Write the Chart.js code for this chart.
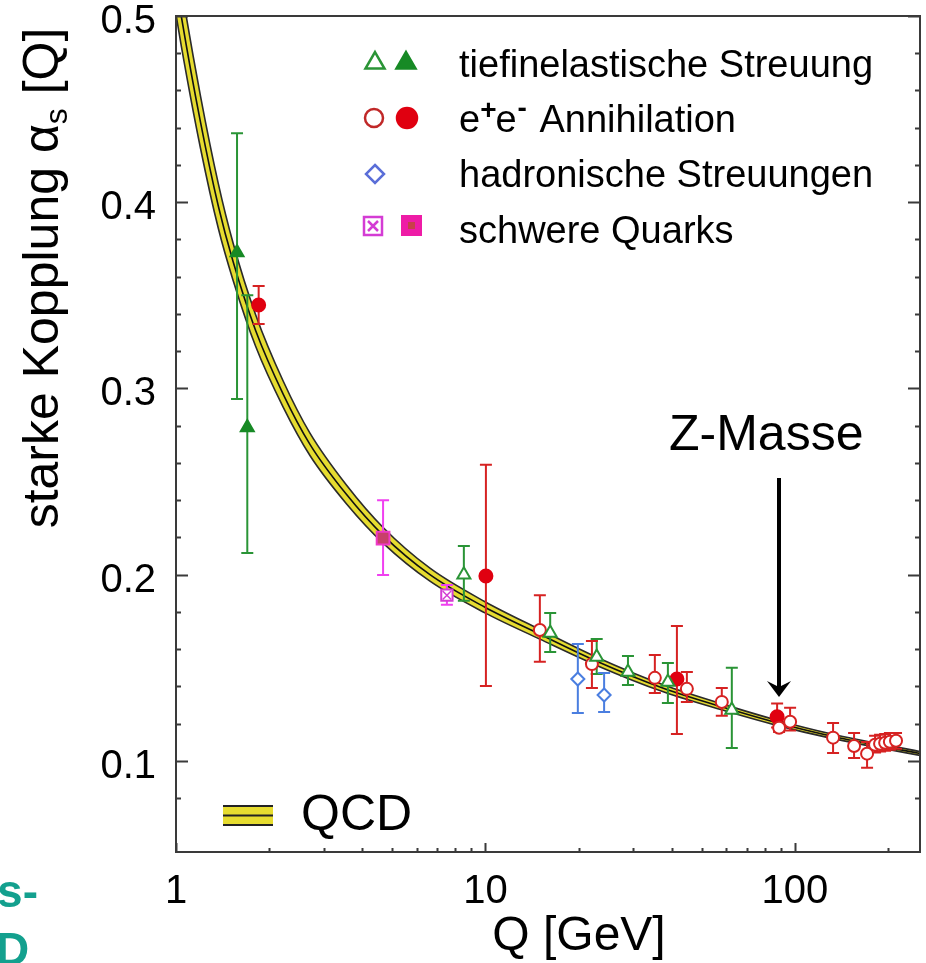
<!DOCTYPE html>
<html><head><meta charset="utf-8">
<script src="https://cdn.jsdelivr.net/npm/chart.js@4.4.0/dist/chart.umd.min.js"></script>
<style>html,body{margin:0;padding:0;background:#fff;}canvas{display:block;}</style>
</head><body>
<canvas id="c" width="926" height="963"></canvas>
<script>
const FONT = '"Liberation Sans", Arial, Helvetica, sans-serif';

// ---- QCD band ----
const qcdQ   = [1.0, 1.04, 1.2, 1.37, 1.53, 1.81, 2.22, 2.71, 3.56, 4.68, 6.62, 9.97, 15.0, 22.9, 37.6, 61.8, 87.5, 131.7, 254];
const qcdMid = [0.518, 0.500, 0.443, 0.398, 0.368, 0.331, 0.297, 0.270, 0.243, 0.221, 0.200, 0.1825, 0.168, 0.1535, 0.139, 0.1277, 0.1205, 0.1133, 0.1040];
const qcdUp  = [0.535, 0.516, 0.457, 0.410, 0.378, 0.3395, 0.304, 0.276, 0.248, 0.2252, 0.2035, 0.1855, 0.1706, 0.1557, 0.1409, 0.1293, 0.1219, 0.1145, 0.1050];
const qcdLow = [0.501, 0.484, 0.429, 0.386, 0.358, 0.3225, 0.290, 0.264, 0.238, 0.2168, 0.1965, 0.1795, 0.1654, 0.1513, 0.1371, 0.1261, 0.1191, 0.1121, 0.1030];

// ---- tiefinelastische Streuung ----
const disOpenQ  = [8.52, 16.2, 22.9, 28.9, 38.9, 62.6];
const disOpenA  = [0.200, 0.1687, 0.1558, 0.1478, 0.1424, 0.1274];
const disOpenLo = [0.186, 0.1585, 0.1467, 0.1408, 0.1311, 0.107];
const disOpenHi = [0.2154, 0.1795, 0.1655, 0.1564, 0.1526, 0.150];
const disFillQ  = [1.575, 1.70];
const disFillA  = [0.373, 0.279];
const disFillLo = [0.2944, 0.2117];
const disFillHi = [0.437, 0.350];

// ---- e+e- Annihilation ----
const eeOpenQ  = [15.0, 22.1, 35.3, 44.8, 58.1, 89.0, 96.6, 133, 155.5, 171.3, 181.8, 188.7, 196, 203, 212.5];
const eeOpenA  = [0.1703, 0.152, 0.1446, 0.1387, 0.1317, 0.1178, 0.121, 0.1125, 0.108, 0.1039, 0.1087, 0.1092, 0.1098, 0.1103, 0.1108];
const eeOpenLo = [0.1532, 0.1392, 0.1365, 0.1317, 0.1242, 0.1155, 0.1164, 0.1043, 0.1016, 0.0963, 0.1045, 0.105, 0.1055, 0.106, 0.1065];
const eeOpenHi = [0.189, 0.1644, 0.1569, 0.1478, 0.1392, 0.1200, 0.1286, 0.1204, 0.115, 0.1102, 0.1135, 0.114, 0.1145, 0.115, 0.115];
const eeFillQ  = [1.85, 10.04, 41.6, 87.7];
const eeFillA  = [0.3448, 0.1993, 0.144, 0.1237];
const eeFillLo = [0.3346, 0.1403, 0.1145, 0.118];
const eeFillHi = [0.355, 0.259, 0.1725, 0.1309];

// ---- hadronische Streuungen ----
const hadQ  = [19.9, 24.2];
const hadA  = [0.144, 0.1354];
const hadLo = [0.1258, 0.1263];
const hadHi = [0.1628, 0.1472];

// ---- schwere Quarks ----
const hqOpenQ  = [7.51];
const hqOpenA  = [0.189];
const hqOpenLo = [0.1838];
const hqOpenHi = [0.1945];
const hqFillQ  = [4.67];
const hqFillA  = [0.2197];
const hqFillLo = [0.1999];
const hqFillHi = [0.240];

const xTickLabels = [1, 10, 100];
const yTickLabels = [0.1, 0.2, 0.3, 0.4, 0.5];
const legendLabels = ['tiefinelastische Streuung', 'e+e- Annihilation', 'hadronische Streuungen', 'schwere Quarks'];
const xTitle = 'Q [GeV]';
const yTitleMain = 'starke Kopplung ';
const annotation = 'Z-Masse';
const bandLabel = 'QCD';

const GREEN = '#2a9436', GREEN_F = '#178a25', RED = '#d62222', RED_F = '#e00010',
      BLUE = '#4a7ee0', MAG = '#f040f0', MAG_D = '#d43cd4', YEL = '#e6dc30';

const pts = (q, a) => q.map((v, i) => ({x: v, y: a[i]}));

const errSeries = [
  {q: disFillQ, lo: disFillLo, hi: disFillHi, c: GREEN},
  {q: disOpenQ, lo: disOpenLo, hi: disOpenHi, c: GREEN},
  {q: eeFillQ, lo: eeFillLo, hi: eeFillHi, c: RED},
  {q: eeOpenQ, lo: eeOpenLo, hi: eeOpenHi, c: RED},
  {q: hadQ, lo: hadLo, hi: hadHi, c: BLUE},
  {q: hqOpenQ, lo: hqOpenLo, hi: hqOpenHi, c: MAG},
  {q: hqFillQ, lo: hqFillLo, hi: hqFillHi, c: MAG},
];

function drawErrorBars(chart) {
  const {ctx, chartArea: ca} = chart;
  const xs = chart.scales.x, ys = chart.scales.y;
  ctx.save();
  ctx.beginPath(); ctx.rect(ca.left, ca.top, ca.right - ca.left, ca.bottom - ca.top); ctx.clip();
  ctx.lineWidth = 2;
  errSeries.forEach(s => {
    ctx.strokeStyle = s.c;
    s.q.forEach((q, i) => {
      const px = xs.getPixelForValue(q);
      const y1 = ys.getPixelForValue(s.lo[i]), y2 = ys.getPixelForValue(s.hi[i]);
      const cw = 6;
      ctx.beginPath();
      ctx.moveTo(px, y1); ctx.lineTo(px, y2);
      ctx.moveTo(px - cw, y1); ctx.lineTo(px + cw, y1);
      ctx.moveTo(px - cw, y2); ctx.lineTo(px + cw, y2);
      ctx.stroke();
    });
  });
  ctx.restore();
}

function drawFrameTicks(chart) {
  const {ctx, chartArea: ca} = chart;
  const xs = chart.scales.x, ys = chart.scales.y;
  ctx.save();
  ctx.strokeStyle = '#3a3a3a';
  ctx.lineWidth = 2;
  ctx.beginPath();
  ys.ticks.forEach(t => {
    const v = t.value;
    const k = Math.round(v / 0.02);
    if (Math.abs(v - k * 0.02) > 1e-6) return;
    const major = Math.abs(v * 10 - Math.round(v * 10)) < 1e-6;
    const len = major ? 12 : 5;
    const py = Math.round(ys.getPixelForValue(v)) + 0.5;
    ctx.moveTo(ca.left, py); ctx.lineTo(ca.left + len, py);
    ctx.moveTo(ca.right, py); ctx.lineTo(ca.right - len, py);
  });
  xs.ticks.forEach(t => {
    const v = t.value;
    const e = Math.floor(Math.log10(v) + 1e-9);
    const m = v / Math.pow(10, e);
    if (Math.abs(m - Math.round(m)) > 1e-6) return;
    const major = Math.abs(m - 1) < 1e-6;
    const len = major ? 9 : 4;
    const px = Math.round(xs.getPixelForValue(v)) + 0.5;
    ctx.moveTo(px, ca.bottom); ctx.lineTo(px, ca.bottom - len);
  });
  ctx.stroke();
  ctx.strokeRect(ca.left, ca.top, ca.right - ca.left, ca.bottom - ca.top);
  ctx.restore();
}

// legend marker helpers
function triangle(ctx, x, y, r, fill, stroke) {
  ctx.beginPath();
  for (let i = 0; i < 3; i++) {
    const a = i * 2 * Math.PI / 3;
    const px = x + Math.sin(a) * r, py = y - Math.cos(a) * r;
    i ? ctx.lineTo(px, py) : ctx.moveTo(px, py);
  }
  ctx.closePath();
  ctx.fillStyle = fill; ctx.fill();
  ctx.lineWidth = 2.5; ctx.strokeStyle = stroke; ctx.stroke();
}
function circle(ctx, x, y, r, fill, stroke) {
  ctx.beginPath(); ctx.arc(x, y, r, 0, Math.PI * 2);
  ctx.fillStyle = fill; ctx.fill();
  ctx.lineWidth = 2.5; ctx.strokeStyle = stroke; ctx.stroke();
}

function drawTexts(chart) {
  const ctx = chart.ctx;
  ctx.save();
  ctx.fillStyle = '#000';
  ctx.textBaseline = 'alphabetic';

  // y title
  ctx.save();
  ctx.translate(58, 278);
  ctx.rotate(-Math.PI / 2);
  const fMain = `50px ${FONT}`, fSub = `32px ${FONT}`;
  ctx.font = fMain;
  const w1 = ctx.measureText(yTitleMain).width;
  const wA = ctx.measureText('α').width;
  const w3 = ctx.measureText(' [Q]').width;
  ctx.font = fSub;
  const wS = ctx.measureText('s').width;
  let x = -(w1 + wA + wS + w3) / 2;
  ctx.font = fMain;
  ctx.fillText(yTitleMain, x, 0); x += w1;
  ctx.fillText('α', x, 0); x += wA;
  ctx.font = fSub; ctx.fillText('s', x, 9); x += wS;
  ctx.font = fMain; ctx.fillText(' [Q]', x, 0);
  ctx.restore();

  // x title
  ctx.font = `48px ${FONT}`;
  ctx.textAlign = 'center';
  ctx.fillText(xTitle, 579, 950);
  ctx.textAlign = 'left';

  // legend
  const rows = [60, 118, 174, 226];
  const base = [77, 132, 187, 243];
  triangle(ctx, 375, rows[0] + 3, 11, '#fff', GREEN);
  triangle(ctx, 406, rows[0] + 3, 11, GREEN_F, GREEN_F);
  circle(ctx, 374, rows[1], 9, '#fff', '#c02828');
  circle(ctx, 407, rows[1], 10, RED_F, RED_F);
  ctx.beginPath();
  ctx.moveTo(375, rows[2] - 9); ctx.lineTo(384, rows[2]); ctx.lineTo(375, rows[2] + 9); ctx.lineTo(366, rows[2]); ctx.closePath();
  ctx.fillStyle = '#fff'; ctx.fill(); ctx.lineWidth = 2.5; ctx.strokeStyle = '#5a6ed8'; ctx.stroke();
  ctx.lineWidth = 2.5; ctx.strokeStyle = MAG_D;
  ctx.strokeRect(364, rows[3] - 9, 18, 18);
  ctx.beginPath(); ctx.moveTo(368, rows[3] - 5); ctx.lineTo(378, rows[3] + 5); ctx.moveTo(378, rows[3] - 5); ctx.lineTo(368, rows[3] + 5); ctx.stroke();
  ctx.fillStyle = '#ee1ca6'; ctx.fillRect(401, rows[3] - 11, 21, 21);
  ctx.fillStyle = '#c8404a'; ctx.fillRect(408, rows[3] - 4, 7, 7);

  ctx.fillStyle = '#000';
  ctx.font = `38px ${FONT}`;
  ctx.fillText(legendLabels[0], 459, base[0]);
  // e+e- with superscripts
  let lx = 459;
  ctx.fillText('e', lx, base[1]); lx += ctx.measureText('e').width;
  ctx.font = `bold 28px ${FONT}`;
  ctx.fillText('+', lx, base[1] - 13); lx += ctx.measureText('+').width - 1;
  ctx.font = `38px ${FONT}`;
  ctx.fillText('e', lx, base[1]); lx += ctx.measureText('e').width;
  ctx.font = `bold 28px ${FONT}`;
  ctx.fillText('-', lx + 1, base[1] - 15); lx += ctx.measureText('-').width + 3;
  ctx.font = `38px ${FONT}`;
  ctx.fillText(' Annihilation', lx, base[1]);
  ctx.fillText(legendLabels[2], 459, base[2]);
  ctx.fillText(legendLabels[3], 459, base[3]);

  // Z-Masse + arrow
  ctx.font = `50px ${FONT}`;
  ctx.fillText(annotation, 669, 450);
  ctx.strokeStyle = '#000'; ctx.lineWidth = 4;
  ctx.beginPath(); ctx.moveTo(779, 478); ctx.lineTo(779, 692); ctx.stroke();
  ctx.fillStyle = '#000';
  ctx.beginPath();
  ctx.moveTo(779, 697); ctx.lineTo(767, 681); ctx.lineTo(779, 687); ctx.lineTo(791, 681); ctx.closePath(); ctx.fill();

  // QCD legend
  ctx.fillStyle = YEL; ctx.fillRect(223, 806, 50, 19);
  ctx.strokeStyle = '#222'; ctx.lineWidth = 2;
  ctx.beginPath();
  ctx.moveTo(223, 806); ctx.lineTo(273, 806);
  ctx.moveTo(223, 815.5); ctx.lineTo(273, 815.5);
  ctx.moveTo(223, 825); ctx.lineTo(273, 825);
  ctx.stroke();
  ctx.fillStyle = '#000';
  ctx.font = `50px ${FONT}`;
  ctx.fillText(bandLabel, 301, 830);

  // clipped slide text at bottom left
  ctx.fillStyle = '#13a08e';
  ctx.font = `bold 46px ${FONT}`;
  ctx.textAlign = 'right';
  ctx.fillText('s-', 38, 907);
  ctx.textAlign = 'left';
  ctx.fillText('D', -4, 965);
  ctx.restore();
}

const customPlugin = {
  id: 'custom',
  afterDatasetDraw(chart, args) { if (args.index === 2) drawErrorBars(chart); },
  afterDraw(chart) { drawFrameTicks(chart); drawTexts(chart); }
};

const bandLine = (data, extra) => Object.assign({
  type: 'line', data, showLine: true, pointRadius: 0, borderColor: '#2a2a2a', borderWidth: 1.6,
  cubicInterpolationMode: 'monotone', fill: false
}, extra);

const scatterSet = (q, a, style, radius, bg, border, order, bw) => ({
  type: 'scatter', data: pts(q, a), pointStyle: style, pointRadius: radius,
  backgroundColor: bg, borderColor: border, pointBorderWidth: bw || 2, order
});

new Chart(document.getElementById('c'), {
  data: {
    datasets: [
      bandLine(pts(qcdQ, qcdLow), {fill: '+1', backgroundColor: YEL, order: 13}),
      bandLine(pts(qcdQ, qcdUp), {order: 12}),
      bandLine(pts(qcdQ, qcdMid), {order: 11, borderColor: '#111'}),
      scatterSet(eeFillQ, eeFillA, 'circle', 6.5, RED_F, RED_F, 7),
      scatterSet(hqFillQ, hqFillA, 'rect', 9, '#c8406a', '#f038c8', 6),
      scatterSet(disFillQ, disFillA, 'triangle', 7.5, GREEN_F, GREEN_F, 6),
      scatterSet(eeOpenQ, eeOpenA, 'circle', 6, '#fff', RED, 5),
      scatterSet(hadQ, hadA, 'rectRot', 6.5, '#fff', BLUE, 4),
      scatterSet(hqOpenQ, hqOpenA, 'rect', 8, '#fff', MAG_D, 4),
      scatterSet(hqOpenQ, hqOpenA, 'crossRot', 6, '#fff', MAG_D, 3, 1.5),
      scatterSet(disOpenQ, disOpenA, 'triangle', 7.5, '#fff', GREEN, 2),
    ]
  },
  options: {
    responsive: false, animation: false, devicePixelRatio: 1,
    layout: {autoPadding: false, padding: {top: 16, right: 6, left: 0, bottom: 0}},
    plugins: {legend: {display: false}, tooltip: {enabled: false}},
    scales: {
      x: {
        type: 'logarithmic', position: 'bottom', min: 1, max: 254,
        grid: {display: false, drawTicks: false}, border: {display: false},
        ticks: {
          autoSkip: false, maxRotation: 0, color: '#000', padding: 16,
          font: {size: 40, family: FONT},
          callback: v => xTickLabels.some(t => Math.abs(t - v) < 1e-9) ? String(v) : ''
        },
        afterFit: s => { s.height = 111; s.paddingLeft = 0; s.paddingRight = 0; }
      },
      y: {
        type: 'linear', position: 'left', min: 0.0511, max: 0.5,
        grid: {display: false, drawTicks: false}, border: {display: false},
        ticks: {
          autoSkip: false, stepSize: 0.02, color: '#000', padding: 20, labelOffset: 6,
          font: {size: 40, family: FONT},
          callback: v => yTickLabels.some(t => Math.abs(t - v) < 1e-6) ? v.toFixed(1) : ''
        },
        afterFit: s => { s.width = 176; s.paddingTop = 0; s.paddingBottom = 0; }
      }
    }
  },
  plugins: [customPlugin]
});
</script>
</body></html>
